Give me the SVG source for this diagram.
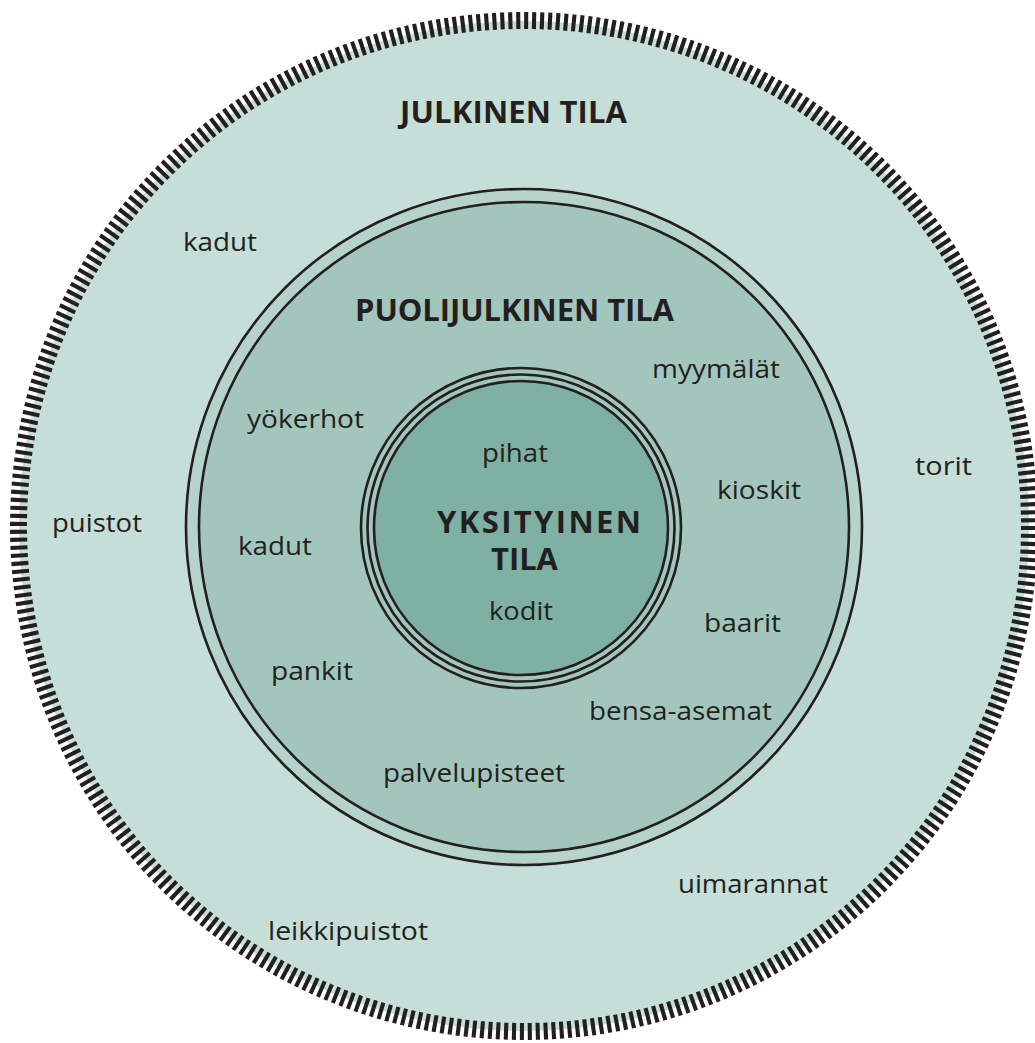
<svg xmlns="http://www.w3.org/2000/svg" width="1035" height="1043" viewBox="0 0 1035 1043">
  <style>
    .ring { stroke: #231f20; stroke-width: 2.6; }
    .lbl { font-family: "Open Sans", "Noto Sans", "DejaVu Sans", sans-serif; font-size: 26px; fill: #231f20; }
    .hd { font-family: "Open Sans", "Noto Sans", "DejaVu Sans", sans-serif; font-size: 31px; font-weight: 700; fill: #231f20; }
  </style>
  <rect width="1035" height="1043" fill="#ffffff"/>
  <g id="julkinen-tila">
    <circle cx="524" cy="526" r="505" fill="#c6ded8"/>
    <circle cx="524" cy="526" r="505.5" fill="none" stroke="#231f20" stroke-width="17" stroke-dasharray="4.1 3.84"/>
    <text class="hd" x="400" y="123" textLength="227" lengthAdjust="spacing">JULKINEN TILA</text>
    <text class="lbl" x="183" y="251" textLength="74" lengthAdjust="spacingAndGlyphs">kadut</text>
    <text class="lbl" x="52" y="532" textLength="90" lengthAdjust="spacingAndGlyphs">puistot</text>
    <text class="lbl" x="915" y="475" textLength="57" lengthAdjust="spacingAndGlyphs">torit</text>
    <text class="lbl" x="678" y="893" textLength="150" lengthAdjust="spacingAndGlyphs">uimarannat</text>
    <text class="lbl" x="268" y="940" textLength="160" lengthAdjust="spacingAndGlyphs">leikkipuistot</text>
  </g>
  <g id="puolijulkinen-tila">
    <circle class="ring" cx="524" cy="527" r="338" fill="#b5d3ca"/>
    <circle class="ring" cx="524" cy="527" r="325" fill="#a3c6bc"/>
    <text class="hd" x="355" y="321" textLength="319" lengthAdjust="spacing">PUOLIJULKINEN TILA</text>
    <text class="lbl" x="652" y="378" textLength="128" lengthAdjust="spacingAndGlyphs">myymälät</text>
    <text class="lbl" x="247" y="428" textLength="117" lengthAdjust="spacingAndGlyphs">yökerhot</text>
    <text class="lbl" x="717" y="499" textLength="84" lengthAdjust="spacingAndGlyphs">kioskit</text>
    <text class="lbl" x="238" y="555" textLength="74" lengthAdjust="spacingAndGlyphs">kadut</text>
    <text class="lbl" x="704" y="632" textLength="77" lengthAdjust="spacingAndGlyphs">baarit</text>
    <text class="lbl" x="271" y="680" textLength="82" lengthAdjust="spacingAndGlyphs">pankit</text>
    <text class="lbl" x="589" y="720" textLength="183" lengthAdjust="spacingAndGlyphs">bensa-asemat</text>
    <text class="lbl" x="383" y="782" textLength="182" lengthAdjust="spacingAndGlyphs">palvelupisteet</text>
  </g>
  <g id="yksityinen-tila">
    <circle class="ring" cx="521" cy="528" r="160" fill="#a3c6bc"/>
    <circle class="ring" cx="521" cy="528" r="153.5" fill="none"/>
    <circle class="ring" cx="521" cy="528" r="147" fill="#7eb0a3"/>
    <text class="hd" x="437" y="533" textLength="204" lengthAdjust="spacing">YKSITYINEN</text>
    <text class="hd" x="491" y="570" textLength="67" lengthAdjust="spacing">TILA</text>
    <text class="lbl" x="482" y="462" textLength="66" lengthAdjust="spacingAndGlyphs">pihat</text>
    <text class="lbl" x="489" y="620" textLength="64" lengthAdjust="spacingAndGlyphs">kodit</text>
  </g>
</svg>
